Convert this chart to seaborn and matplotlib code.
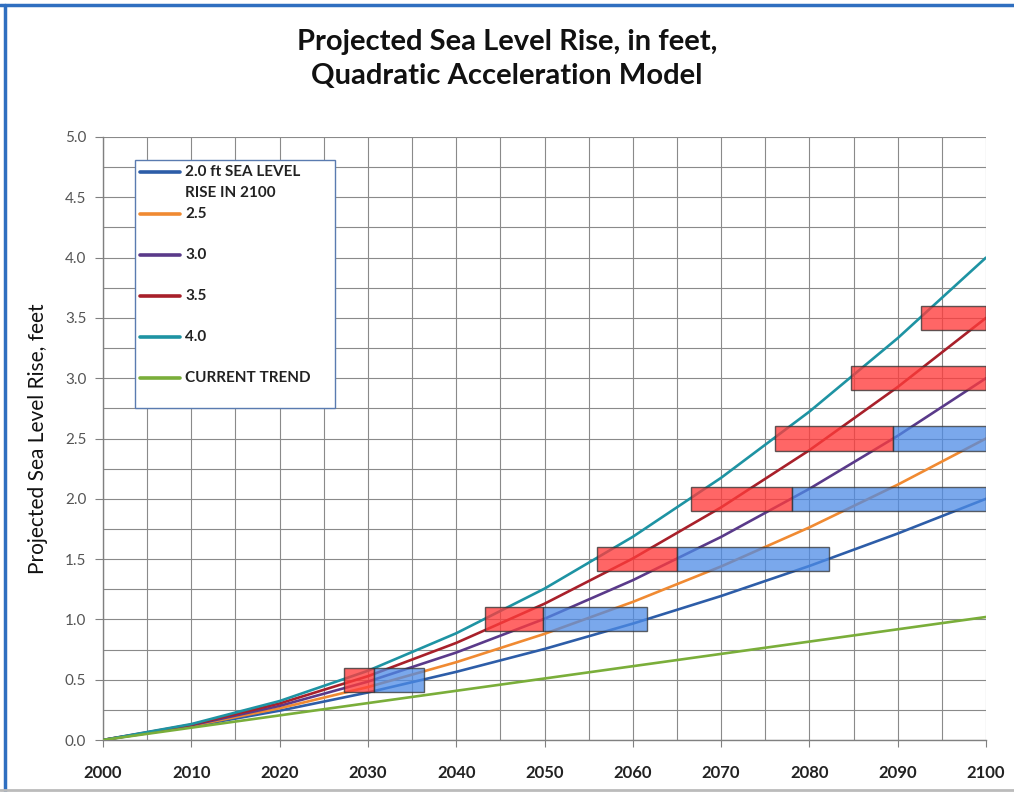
import numpy as np
import pandas as pd
import matplotlib
matplotlib.use("Agg")
import matplotlib.pyplot as plt
import seaborn as sns
from matplotlib.lines import Line2D
from matplotlib.patches import Rectangle

# ---- data ----
years = [2000, 2010, 2020, 2030, 2040, 2050, 2060, 2070, 2080, 2090, 2100]

rise_20 = [0.0, 0.112, 0.243, 0.394, 0.565, 0.755, 0.965, 1.194, 1.443, 1.712, 2.0]
rise_25 = [0.0, 0.117, 0.263, 0.439, 0.645, 0.880, 1.145, 1.439, 1.763, 2.117, 2.5]
rise_30 = [0.0, 0.122, 0.283, 0.484, 0.725, 1.005, 1.325, 1.684, 2.083, 2.522, 3.0]
rise_35 = [0.0, 0.127, 0.303, 0.529, 0.805, 1.130, 1.505, 1.929, 2.403, 2.927, 3.5]
rise_40 = [0.0, 0.132, 0.323, 0.574, 0.885, 1.255, 1.685, 2.174, 2.723, 3.332, 4.0]
trend = [0.0, 0.102, 0.204, 0.306, 0.408, 0.510, 0.612, 0.714, 0.816, 0.918, 1.02]

series_names = ["2.0 ft SEA LEVEL\nRISE IN 2100", "2.5", "3.0", "3.5", "4.0", "CURRENT TREND"]
series_values = [rise_20, rise_25, rise_30, rise_35, rise_40, trend]
series_colors = ["#2D5DA8", "#F08A32", "#5A3A8A", "#A8202A", "#1E93A3", "#7AAE3A"]

# time windows at each level: red = 4.0 ft to 3.0 ft crossing, blue = 3.0 ft to 2.0 ft crossing
box_levels = [0.5, 1.0, 1.5, 2.0, 2.5, 3.0, 3.5]
red_start = [2027.3, 2043.3, 2055.9, 2066.6, 2076.1, 2084.7, 2092.6]
red_end = [2030.7, 2049.8, 2065.0, 2078.0, 2089.5, 2100.0, 2100.0]
blue_end = [2036.3, 2061.6, 2082.2, 2100.0, 2100.0, 2100.0, 2100.0]

# ---- build long table ----
rows = []
for name, vals in zip(series_names, series_values):
    for yr, v in zip(years, vals):
        rows.append({"Year": yr, "Rise": v, "Scenario": name})
df = pd.DataFrame(rows)

sns.set_style("white")
plt.rcParams["font.family"] = ["Lato", "DejaVu Sans"]

W, H = 1014, 792
fig = plt.figure(figsize=(W / 100, H / 100), dpi=100)
ax = fig.add_axes([103 / W, 1 - 740 / H, 883 / W, 603 / H])


def px(x, y):
    # pixel position -> figure fraction
    return x / W, 1 - y / H


sns.lineplot(data=df, x="Year", y="Rise", hue="Scenario", hue_order=series_names,
             palette=dict(zip(series_names, series_colors)), linewidth=1.9,
             ax=ax, legend=False, zorder=3)

# boxes
red_w = [e - s for s, e in zip(red_start, red_end)]
blue_w = [e - s for s, e in zip(red_end, blue_end)]
ax.barh(box_levels, red_w, left=red_start, height=0.2, color="#FF3B3B", alpha=0.78,
        edgecolor="#333333", linewidth=1.0, zorder=4)
ax.barh(box_levels, blue_w, left=red_end, height=0.2, color="#4D8BE6", alpha=0.75,
        edgecolor="#333333", linewidth=1.0, zorder=4)

# axes, grid
ax.set_xlim(2000, 2100)
ax.set_ylim(0, 5)
ax.set_xticks(np.arange(2000, 2101, 10))
ax.set_xticks(np.arange(2000, 2101, 5), minor=True)
ax.set_yticks(np.arange(0, 5.01, 0.5))
ax.set_yticks(np.arange(0, 5.01, 0.25), minor=True)
ax.grid(True, which="both", color="#8A8A8A", linewidth=0.8, zorder=0)
ax.set_axisbelow(True)
for s in ["top", "right"]:
    ax.spines[s].set_visible(False)
for s in ["left", "bottom"]:
    ax.spines[s].set_color("#808080")
    ax.spines[s].set_linewidth(1.0)

ax.tick_params(axis="y", which="major", length=6, color="#808080", labelsize=11,
               labelcolor="#555555", pad=6, direction="out", left=True)
ax.tick_params(axis="y", which="minor", length=0)
ax.tick_params(axis="x", which="major", length=5, color="#808080", labelsize=12,
               labelcolor="#222222", pad=13, direction="out", bottom=True)
ax.tick_params(axis="x", which="minor", length=0)
ax.set_yticklabels([f"{v:.1f}" for v in np.arange(0, 5.01, 0.5)])
for lab in ax.get_xticklabels():
    lab.set_fontweight("bold")

ax.set_xlabel("")
ax.set_ylabel("Projected Sea Level Rise, feet", fontsize=15, color="#111111", labelpad=12)

# legend, laid out like the original box
fig.add_artist(Rectangle(px(135, 408), 200 / W, 248 / H, transform=fig.transFigure,
                         facecolor="white", edgecolor="#5A7BB0", linewidth=1.0, zorder=6))
entry_y = [172, 214, 255, 296, 337, 378]
for name, col, yy in zip(series_names, series_colors, entry_y):
    x0, y0 = px(140, yy)
    x1, _ = px(180, yy)
    fig.add_artist(Line2D([x0, x1], [y0, y0], color=col, lw=2.6, transform=fig.transFigure, zorder=7))
    parts = name.split("\n")
    for i, p in enumerate(parts):
        tx, ty = px(185, yy + 21 * i)
        fig.text(tx, ty, p, ha="left", va="center", fontsize=11, fontweight="bold",
                 color="#222222", zorder=7)

# title
fig.text(0.5, 1 - 42 / H, "Projected Sea Level Rise, in feet,", ha="center", va="center",
         fontsize=21, fontweight="bold", color="#111111")
fig.text(0.5, 1 - 76 / H, "Quadratic Acceleration Model", ha="center", va="center",
         fontsize=21, fontweight="bold", color="#111111")

# screenshot frame
fig.add_artist(Line2D([0, 1], [1 - 5 / H, 1 - 5 / H], color="#2F6FC0", lw=2.5, transform=fig.transFigure))
fig.add_artist(Line2D([5 / W, 5 / W], [0, 1 - 5 / H], color="#2F6FC0", lw=2.5, transform=fig.transFigure))
fig.add_artist(Line2D([0, 1], [2 / H, 2 / H], color="#BBBBBB", lw=2.0, transform=fig.transFigure))

fig.savefig("out.png", dpi=100)
